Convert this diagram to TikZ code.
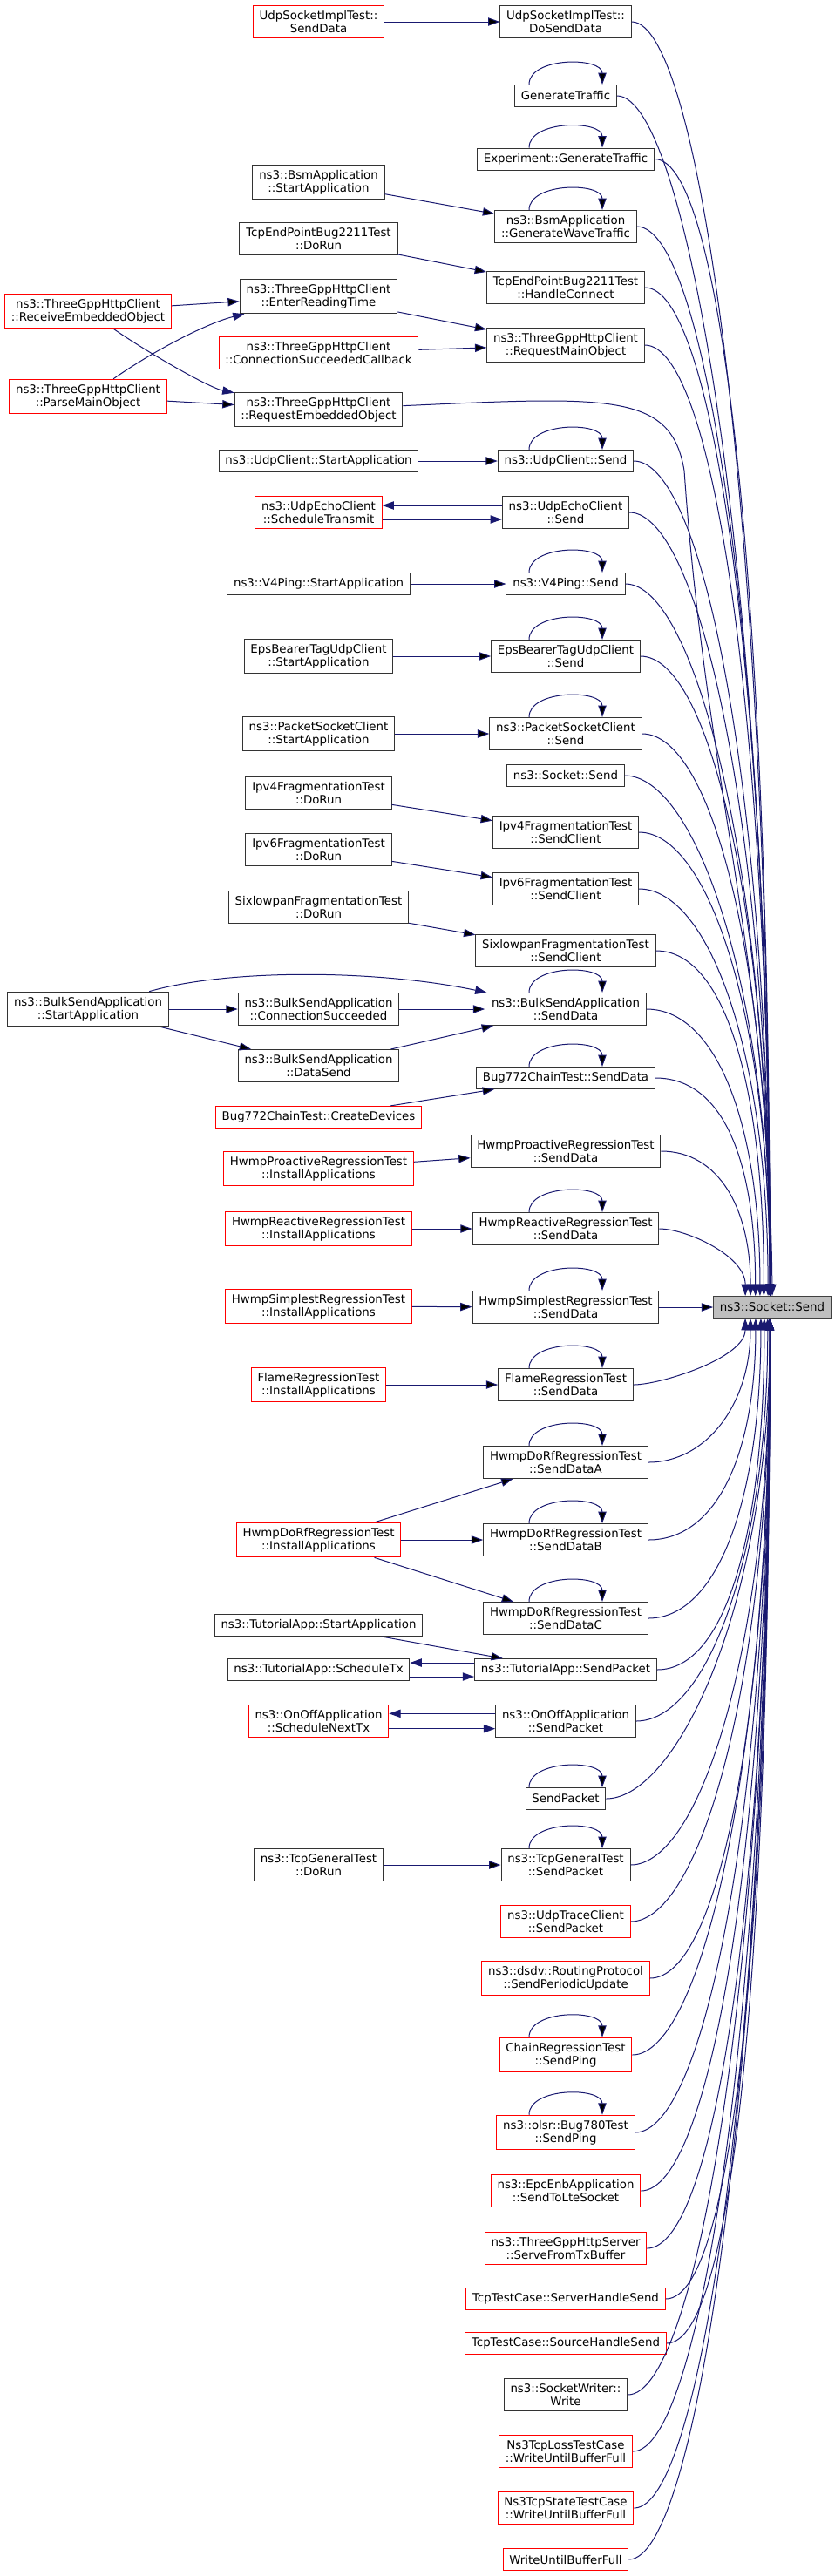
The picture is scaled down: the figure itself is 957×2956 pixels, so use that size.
\documentclass[tikz,border=0pt]{standalone}
\usepackage{fontspec}
\setmainfont{DejaVu Sans}
\usetikzlibrary{arrows.meta,calc}
\definecolor{edgeblue}{HTML}{191970}
\begin{document}
\begin{tikzpicture}[x=0.75pt,y=-0.75pt]
        		\tikzstyle{func}=[draw=black!80,line width=0.75pt,fill=white,align=center,inner xsep=5.5pt,inner ysep=4.4pt,minimum height=18.75pt,font=\fontsize{10}{11.25}\selectfont]
        		\tikzstyle{trunc}=[func,draw=red]
        		\tikzstyle{target}=[func,fill=black!25,draw=black!75]
        		\tikzstyle{edge}=[draw=edgeblue,line width=0.75pt,-{Triangle[length=10pt,width=7pt]}]
        		\tikzstyle{selfloop}=[to path={([xshift=-31.5pt]\tikztostart.north) .. controls +(0pt,24pt) and +(0pt,24pt) .. ([xshift=31.5pt]\tikztostart.north)}]
        		\path[fill=white] (0,0) rectangle (957,2956);
        		\useasboundingbox (0,0) rectangle (957,2956);
        		% callers of the callers
        		\begin{scope}
        			\node [trunc] (l1) at (101,357) {ns3::ThreeGppHttpClient\\::ReceiveEmbeddedObject};
        			\node [trunc] (l2) at (101,455) {ns3::ThreeGppHttpClient\\::ParseMainObject};
        			\node [func] (l3) at (101,1158) {ns3::BulkSendApplication\\::StartApplication};
        		\end{scope}
        		% middle rank
        		\begin{scope}
        			\node [trunc] (m1) at (365.5,25) {UdpSocketImplTest::\\SendData};
        			\node [func] (m2) at (365.5,209) {ns3::BsmApplication\\::StartApplication};
        			\node [func] (m3) at (365.5,274) {TcpEndPointBug2211Test\\::DoRun};
        			\node [func] (m4) at (365.5,340) {ns3::ThreeGppHttpClient\\::EnterReadingTime};
        			\node [trunc] (m5) at (365.5,405) {ns3::ThreeGppHttpClient\\::ConnectionSucceededCallback};
        			\node [func] (m6) at (365.5,470) {ns3::ThreeGppHttpClient\\::RequestEmbeddedObject};
        			\node [func] (m7) at (365.5,529) {ns3::UdpClient::StartApplication};
        			\node [trunc] (m8) at (365.5,588) {ns3::UdpEchoClient\\::ScheduleTransmit};
        			\node [func] (m9) at (365.5,670) {ns3::V4Ping::StartApplication};
        			\node [func] (m10) at (365.5,753) {EpsBearerTagUdpClient\\::StartApplication};
        			\node [func] (m11) at (365.5,842) {ns3::PacketSocketClient\\::StartApplication};
        			\node [func] (m12) at (365.5,910) {Ipv4FragmentationTest\\::DoRun};
        			\node [func] (m13) at (365.5,975) {Ipv6FragmentationTest\\::DoRun};
        			\node [func] (m14) at (365.5,1041) {SixlowpanFragmentationTest\\::DoRun};
        			\node [func] (m15) at (365.5,1158) {ns3::BulkSendApplication\\::ConnectionSucceeded};
        			\node [func] (m16) at (365.5,1223) {ns3::BulkSendApplication\\::DataSend};
        			\node [trunc] (m17) at (365.5,1282) {Bug772ChainTest::CreateDevices};
        			\node [trunc] (m18) at (365.5,1341) {HwmpProactiveRegressionTest\\::InstallApplications};
        			\node [trunc] (m19) at (365.5,1410) {HwmpReactiveRegressionTest\\::InstallApplications};
        			\node [trunc] (m20) at (365.5,1499) {HwmpSimplestRegressionTest\\::InstallApplications};
        			\node [trunc] (m21) at (365.5,1589) {FlameRegressionTest\\::InstallApplications};
        			\node [trunc] (m22) at (365.5,1767) {HwmpDoRfRegressionTest\\::InstallApplications};
        			\node [func] (m23) at (365.5,1865) {ns3::TutorialApp::StartApplication};
        			\node [func] (m24) at (365.5,1916) {ns3::TutorialApp::ScheduleTx};
        			\node [trunc] (m25) at (365.5,1975) {ns3::OnOffApplication\\::ScheduleNextTx};
        			\node [func] (m26) at (365.5,2140) {ns3::TcpGeneralTest\\::DoRun};
        		\end{scope}
        		% direct callers
        		\begin{scope}
        			\node [func] (r1) at (649,25) {UdpSocketImplTest::\\DoSendData};
        			\node [func] (r2) at (649,110) {GenerateTraffic};
        			\node [func] (r3) at (649,182.5) {Experiment::GenerateTraffic};
        			\node [func] (r4) at (649,260) {ns3::BsmApplication\\::GenerateWaveTraffic};
        			\node [func] (r5) at (649,330) {TcpEndPointBug2211Test\\::HandleConnect};
        			\node [func] (r6) at (649,396) {ns3::ThreeGppHttpClient\\::RequestMainObject};
        			\node [func] (r7) at (649,529) {ns3::UdpClient::Send};
        			\node [func] (r8) at (649,588) {ns3::UdpEchoClient\\::Send};
        			\node [func] (r9) at (649,670) {ns3::V4Ping::Send};
        			\node [func] (r10) at (649,753) {EpsBearerTagUdpClient\\::Send};
        			\node [func] (r11) at (649,842) {ns3::PacketSocketClient\\::Send};
        			\node [func] (r12) at (649,890) {ns3::Socket::Send};
        			\node [func] (r13) at (649,955) {Ipv4FragmentationTest\\::SendClient};
        			\node [func] (r14) at (649,1020) {Ipv6FragmentationTest\\::SendClient};
        			\node [func] (r15) at (649,1091) {SixlowpanFragmentationTest\\::SendClient};
        			\node [func] (r16) at (649,1158) {ns3::BulkSendApplication\\::SendData};
        			\node [func] (r17) at (649,1237) {Bug772ChainTest::SendData};
        			\node [func] (r18) at (649,1321) {HwmpProactiveRegressionTest\\::SendData};
        			\node [func] (r19) at (649,1410) {HwmpReactiveRegressionTest\\::SendData};
        			\node [func] (r20) at (649,1500) {HwmpSimplestRegressionTest\\::SendData};
        			\node [func] (r21) at (649,1589) {FlameRegressionTest\\::SendData};
        			\node [func] (r22) at (649,1678) {HwmpDoRfRegressionTest\\::SendDataA};
        			\node [func] (r23) at (649,1767) {HwmpDoRfRegressionTest\\::SendDataB};
        			\node [func] (r24) at (649,1857) {HwmpDoRfRegressionTest\\::SendDataC};
        			\node [func] (r25) at (649,1916) {ns3::TutorialApp::SendPacket};
        			\node [func] (r26) at (649,1975) {ns3::OnOffApplication\\::SendPacket};
        			\node [func] (r27) at (649,2064) {SendPacket};
        			\node [func] (r28) at (649,2140) {ns3::TcpGeneralTest\\::SendPacket};
        			\node [trunc] (r29) at (649,2205) {ns3::UdpTraceClient\\::SendPacket};
        			\node [trunc] (r30) at (649,2270) {ns3::dsdv::RoutingProtocol\\::SendPeriodicUpdate};
        			\node [trunc] (r31) at (649,2358) {ChainRegressionTest\\::SendPing};
        			\node [trunc] (r32) at (649,2447) {ns3::olsr::Bug780Test\\::SendPing};
        			\node [trunc] (r33) at (649,2514) {ns3::EpcEnbApplication\\::SendToLteSocket};
        			\node [trunc] (r34) at (649,2580) {ns3::ThreeGppHttpServer\\::ServeFromTxBuffer};
        			\node [trunc] (r35) at (649,2638) {TcpTestCase::ServerHandleSend};
        			\node [trunc] (r36) at (649,2689) {TcpTestCase::SourceHandleSend};
        			\node [func] (r37) at (649,2748) {ns3::SocketWriter::\\Write};
        			\node [trunc] (r38) at (649,2813) {Ns3TcpLossTestCase\\::WriteUntilBufferFull};
        			\node [trunc] (r39) at (649,2878) {Ns3TcpStateTestCase\\::WriteUntilBufferFull};
        			\node [trunc] (r40) at (649,2937) {WriteUntilBufferFull};
        		\end{scope}
        		\node [target] (ss) at (886,1500) {ns3::Socket::Send};
        		% calls between the ranks
        		\path[edge] (l1) edge (m4);
        		\path[edge] (l2) edge (m6);
        		\draw[edge] (l1) .. controls (170,405) and (240,445) .. (m6);
        		\draw[edge] (l2) .. controls (180,400) and (240,370) .. (m4);
        		\path[edge] (l3) edge (m15);
        		\path[edge] (l3) edge (m16);
        		\draw[edge] (l3) .. controls (260,1112) and (430,1112) .. (r16);
        		\path[edge] (m1) edge (r1);
        		\path[edge] (m2) edge (r4);
        		\path[edge] (m3) edge (r5);
        		\path[edge] (m4) edge (r6);
        		\path[edge] (m5) edge (r6);
        		\path[edge] (m7) edge (r7);
        		\draw[edge] ([yshift=6pt]r8.west) -- ([yshift=6pt]m8.east);
        		\draw[edge] ([yshift=-6pt]m8.east) -- ([yshift=-6pt]r8.west);
        		\path[edge] (m9) edge (r9);
        		\path[edge] (m10) edge (r10);
        		\path[edge] (m11) edge (r11);
        		\path[edge] (m12) edge (r13);
        		\path[edge] (m13) edge (r14);
        		\path[edge] (m14) edge (r15);
        		\path[edge] (m15) edge (r16);
        		\path[edge] (m16) edge (r16);
        		\path[edge] (m17) edge (r17);
        		\path[edge] (m18) edge (r18);
        		\path[edge] (m19) edge (r19);
        		\path[edge] (m20) edge (r20);
        		\path[edge] (m21) edge (r21);
        		\path[edge] (m22) edge (r22);
        		\path[edge] (m22) edge (r23);
        		\path[edge] (m22) edge (r24);
        		\path[edge] (m23) edge (r25);
        		\draw[edge] ([yshift=6pt]r25.west) -- ([yshift=6pt]m24.east);
        		\draw[edge] ([yshift=-6pt]m24.east) -- ([yshift=-6pt]r25.west);
        		\draw[edge] ([yshift=6.5pt]r26.west) -- ([yshift=6.5pt]m25.east);
        		\draw[edge] ([yshift=-6.5pt]m25.east) -- ([yshift=-6.5pt]r26.west);
        		\path[edge] (m26) edge (r28);
        		% recursive calls
        		\foreach \src in {r2,r3,r4,r7,r9,r10,r11,r16,r17,r19,r20,r21,r22,r23,r24,r27,r28,r31,r32}
        			\path[edge] (\src) edge[selfloop] (\src);
        		% everything ends in ns3::Socket::Send
        		\draw[edge] (m6) .. controls (700,455) and (770,450) .. (785,540) .. controls (810,900) and (882,1100) .. (ss.north);
        		\path[edge] (r20) edge (ss);
        		\foreach \src in {r1,r2,r3,r4,r5,r6,r7,r8,r9,r10,r11,r12,r13,r14,r15,r16,r17,r18,r19}
        			\draw[edge] let \p1=(\src.east), \p2=(ss.north), \n1={(\y1)-(\y2)} in
        				(\p1) .. controls ({\x1+min(60pt,0.4*\n1)},\y1) and ({\x2-2pt-25pt*max(0,1-\n1/375pt)},{\y2+0.6*\n1}) .. ({\x2-2pt-25pt*max(0,1-\n1/375pt)},\y2);
        		\foreach \src in {r21,r22,r23,r24,r25,r26,r27,r28,r29,r30,r31,r32,r33,r34,r35,r36,r37,r38,r39,r40}
        			\draw[edge] let \p1=(\src.east), \p2=(ss.south), \n1={(\y2)-(\y1)} in
        				(\p1) .. controls ({\x1+min(60pt,0.4*\n1)},\y1) and ({\x2-2pt-25pt*max(0,1-\n1/375pt)},{\y2-0.6*\n1}) .. ({\x2-2pt-25pt*max(0,1-\n1/375pt)},\y2);
\end{tikzpicture}
\end{document}
